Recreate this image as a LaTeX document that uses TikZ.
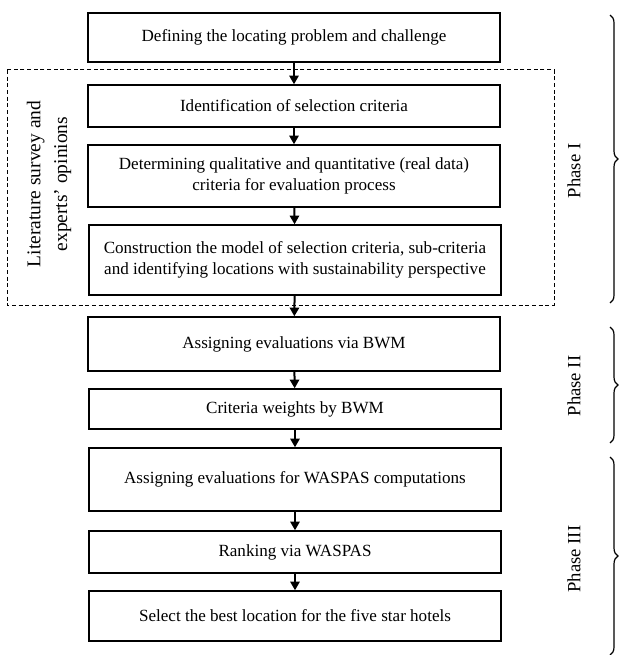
\documentclass[tikz,border=0pt]{standalone}
\usepackage{fontspec}
\setmainfont{Liberation Serif}
\usetikzlibrary{arrows.meta,decorations.pathreplacing}

\tikzset{every picture/.style={line width=0.75pt}}
\tikzset{
  stepbox/.style={draw, line width=1.1pt, minimum width=309pt, align=center, inner sep=0.75pt, font=\fontsize{12.8}{15.5}\selectfont},
  flowarrow/.style={line width=1.5pt, -{Triangle[length=6.5pt,width=7pt]}},
  phasebrace/.style={decorate, decoration={brace, amplitude=6pt}, line width=0.9pt},
  phaselabel/.style={rotate=90, inner sep=0.75pt, font=\fontsize{14}{17}\selectfont}
}

\begin{document}
\begin{tikzpicture}[x=0.75pt,y=0.75pt,yscale=-1,xscale=1]
	\useasboundingbox (0,0) rectangle (619,655);
	
	%Shape: Rectangle [dashed frame]
	\draw [dash pattern={on 3pt off 2pt}] (7,70) rectangle (554,305) ;
	
	% Step boxes
	\node [stepbox, minimum height=36.75pt] (b1) at (294,37.5) {Defining the locating problem and challenge};
	\node [stepbox, minimum height=31.5pt] (b2) at (294,106) {Identification of selection criteria};
	\node [stepbox, minimum height=46.5pt] (b3) at (294,176) {Determining qualitative and quantitative (real data)\\criteria for evaluation process};
	\node [stepbox, minimum height=52.5pt] (b4) at (295,260) {Construction the model of selection criteria, sub-criteria\\and identifying locations with sustainability perspective};
	\node [stepbox, minimum height=40.5pt] (b5) at (294,344) {Assigning evaluations via BWM};
	\node [stepbox, minimum height=30pt] (b6) at (295,409) {Criteria weights by BWM};
	\node [stepbox, minimum height=47.25pt] (b7) at (295,479.5) {Assigning evaluations for WASPAS computations};
	\node [stepbox, minimum height=31.5pt] (b8) at (295,552) {Ranking via WASPAS};
	\node [stepbox, minimum height=37.5pt] (b9) at (295,616) {Select the best location for the five star hotels};
	
	% Arrows
	\draw [flowarrow] (b1) -- (b2) ;
	\draw [flowarrow] (b2) -- (b3) ;
	\draw [flowarrow] (b3) -- (b4) ;
	\draw [flowarrow] (b4) -- (b5) ;
	\draw [flowarrow] (b5) -- (b6) ;
	\draw [flowarrow] (b6) -- (b7) ;
	\draw [flowarrow] (b7) -- (b8) ;
	\draw [flowarrow] (b8) -- (b9) ;
	
	% Text Node
	\node [phaselabel, align=center, font=\fontsize{14.6}{20}\selectfont] (lit) at (49,184) {Literature survey and\\experts' opinions};
	
	% Braces
	\draw [phasebrace] (610,15) -- (610,303) ;
	\draw [phasebrace] (610,327) -- (610,443) ;
	\draw [phasebrace] (610,457) -- (610,655) ;
	
	% Text Node
	\node [phaselabel] (ph1) at (574,171) {Phase I};
	% Text Node
	\node [phaselabel] (ph2) at (574,386) {Phase II};
	% Text Node
	\node [phaselabel] (ph3) at (574,559) {Phase III};
	
\end{tikzpicture}
\end{document}
